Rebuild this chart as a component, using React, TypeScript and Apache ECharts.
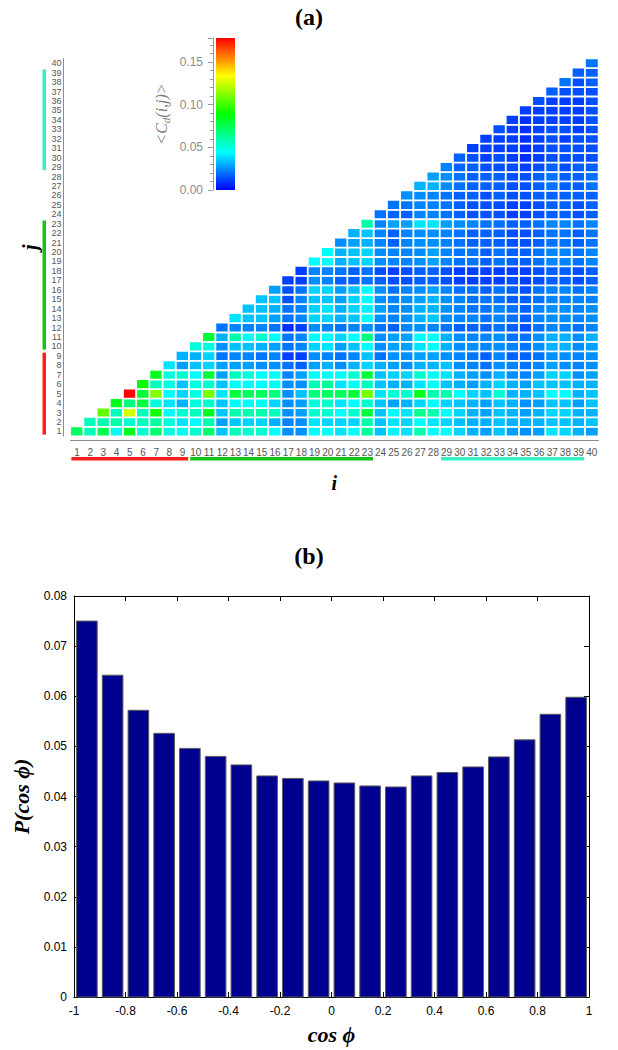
import { useEffect, useRef } from 'react';
import * as echarts from 'echarts';

// ---------- panel (a): <C_d(i,j)> for residue pairs, j <= i (values in units of 0.001) ----------
const ijLabels = ['1','2','3','4','5','6','7','8','9','10','11','12','13','14','15','16','17','18','19','20',
  '21','22','23','24','25','26','27','28','29','30','31','32','33','34','35','36','37','38','39','40'];

// each row j lists i = j .. 40
const cdJ01 = [73,56,76,47,84,53,70,50,47,53, 70,34,56,53,53,45,25,25,45,45, 40,45,62,34,43,40,59,45,45,37, 31,28,34,28,25,28,40,37,31,28];
const cdJ02 = [56,59,59,53,56,62,50,40,45, 59,28,35,37,37,31,23,25,40,37, 37,37,59,34,40,37,45,40,37,34, 31,31,34,31,31,31,34,34,31,34];
const cdJ03 = [106,56,126,56,92,45,53,56, 84,34,59,59,59,56,25,28,53,53, 45,53,79,34,45,40,65,59,45,37, 31,28,34,31,28,31,37,37,31,31];
const cdJ04 = [84,67,79,50,40,31,50, 53,34,45,45,45,37,25,28,50,53, 40,45,53,34,28,31,37,45,37,34, 31,28,34,31,25,28,34,34,28,34];
const cdJ05 = [178,79,112,45,37,50, 109,40,79,73,73,67,25,34,67,73, 73,79,109,40,53,53,84,59,59,45, 37,34,53,31,31,34,45,45,31,34];
const cdJ06 = [89,56,50,34,50, 53,34,45,45,45,45,25,25,56,62, 40,45,56,34,31,31,40,45,34,31, 28,31,37,31,28,34,34,34,31,31];
const cdJ07 = [84,50,53,45, 79,28,56,50,45,45,23,28,45,45, 45,53,79,34,37,37,53,45,40,31, 28,25,31,25,23,28,37,37,25,28];
const cdJ08 = [40,28,34, 37,28,28,28,25,25,20,17,28,31, 25,31,37,31,28,25,31,31,34,25, 23,20,25,23,20,23,28,25,23,25];
const cdJ09 = [31,31, 37,20,23,23,20,23,11,11,25,23, 20,23,34,20,25,25,28,28,25,23, 20,17,23,17,17,20,25,25,23,25];
const cdJ10 = [50, 50,25,34,34,31,28,20,23,37,40, 28,34,45,25,28,28,40,45,31,25, 25,23,25,23,20,25,31,31,25,28];
const cdJ11 = [79,31,59,45,53,45,20,23,45,45, 37,45,67,25,28,28,45,45,31,25, 23,23,25,20,20,25,31,31,25,31];
const cdJ12 = [20,23,23,23,20,8,11,25,23, 20,23,25,20,17,23,25,23,20,17, 17,17,20,17,14,20,23,23,20,23];
const cdJ13 = [40,34,34,28,20,23,37,37, 31,34,45,25,23,25,31,34,25,23, 23,20,23,20,17,23,25,25,23,25];
const cdJ14 = [34,34,31,20,23,37,40, 31,37,42,28,23,25,31,31,25,23, 20,20,23,20,17,23,25,25,23,25];
const cdJ15 = [34,34,14,23,34,34, 28,37,45,25,23,25,28,31,25,23, 20,20,20,17,17,20,23,23,23,23];
const cdJ16 = [28,14,20,37,37, 28,34,45,25,20,23,25,28,23,20, 20,17,20,17,14,20,23,23,20,23];
const cdJ17 = [11,11,25,23, 17,17,20,17,14,14,17,17,14,11, 11,11,11,14,11,14,17,17,14,17];
const cdJ18 = [11,23,23, 20,17,20,14,11,14,17,17,14,11, 11,11,11,11,11,14,17,17,14,17];
const cdJ19 = [45,45, 31,34,37,25,23,23,25,28,23,20, 20,17,20,17,17,20,23,23,20,23];
const cdJ20 = [45, 31,34,37,25,23,23,25,28,23,20, 20,17,20,17,17,20,23,23,20,23];
const cdJ21 = [25,28,31,23,17,23,25,25,23,20, 17,17,17,14,14,17,20,20,17,20];
const cdJ22 = [31,34,23,17,23,25,25,23,20, 17,17,17,14,14,17,20,20,17,20];
const cdJ23 = [59,23,28,28,40,40,28,25, 23,20,20,17,17,20,23,23,20,23];
const cdJ24 = [20,17,17,23,23,20,17, 14,14,14,11,11,14,17,17,14,17];
const cdJ25 = [20,20,23,23,20,17, 14,14,14,11,11,14,17,17,14,17];
const cdJ26 = [25,25,23,20,17, 17,14,17,14,14,17,17,17,17,17];
const cdJ27 = [31,31,25,20,17,17,17,14,14,17,20,17,17,20];
const cdJ28 = [28,25,20,17,17,17,14,14,17,20,17,17,20];
const cdJ29 = [23,17,17,14,14,14,11,14,17,14,17,17];
const cdJ30 = [17,14,11,14,11,8,11,14,14,14,14];
const cdJ31 = [11,11,11,11,8,11,14,14,14,14];
const cdJ32 = [11,11,11,8,11,14,11,14,14];
const cdJ33 = [14,11,8,11,14,14,11,14];
const cdJ34 = [11,8,11,11,11,11,14];
const cdJ35 = [11,11,11,11,11,14];
const cdJ36 = [14,11,11,11,14];
const cdJ37 = [17,14,14,14];
const cdJ38 = [20,14,17];
const cdJ39 = [17,17];
const cdJ40 = [20];

const cdRows = [cdJ01,cdJ02,cdJ03,cdJ04,cdJ05,cdJ06,cdJ07,cdJ08,cdJ09,cdJ10,
  cdJ11,cdJ12,cdJ13,cdJ14,cdJ15,cdJ16,cdJ17,cdJ18,cdJ19,cdJ20,
  cdJ21,cdJ22,cdJ23,cdJ24,cdJ25,cdJ26,cdJ27,cdJ28,cdJ29,cdJ30,
  cdJ31,cdJ32,cdJ33,cdJ34,cdJ35,cdJ36,cdJ37,cdJ38,cdJ39,cdJ40];

const cdMax = 0.178;
const cdColors = ['#0000ff', '#00ffff', '#00ff00', '#ffff00', '#ff0000'];

// residue groups marked along both axes
const groupFrom = [1, 10, 29];
const groupTo = [9, 23, 39];
const groupColors = ['#ff1e1e', '#14c414', '#35efc5'];

// ---------- panel (b): P(cos phi) histogram ----------
const cosPhiBins = [-0.95,-0.85,-0.75,-0.65,-0.55,-0.45,-0.35,-0.25,-0.15,-0.05,
  0.05,0.15,0.25,0.35,0.45,0.55,0.65,0.75,0.85,0.95];
const pCosPhi = [0.0750,0.0642,0.0572,0.0526,0.0496,0.0480,0.0463,0.0441,0.0436,0.0431,
  0.0427,0.0421,0.0419,0.0441,0.0448,0.0459,0.0479,0.0513,0.0564,0.0598];

const serif = 'Liberation Serif';
const sans = 'Liberation Sans';

export default function App() {
  const ref = useRef<HTMLDivElement>(null);

  useEffect(() => {
    const chart = echarts.init(ref.current as HTMLDivElement, null, { renderer: 'svg' });

    const heatData: number[][] = [];
    cdRows.forEach((row, jIdx) => {
      row.forEach((v, k) => {
        heatData.push([jIdx + k, jIdx, v / 1000]);
      });
    });

    const axisNameStyle = {
      fontFamily: serif, fontWeight: 'bold', fontStyle: 'italic', fontSize: 20, color: '#000',
    };
    const heatAxisGray = '#8c8c8c';
    const barHalf = 0.04;
    const blackLine = { show: true, onZero: false, lineStyle: { color: '#000' } };
    const blackTick = { show: true, inside: true, length: 5, lineStyle: { color: '#000' } };

    const option: any = {
      animation: false,
      backgroundColor: '#fff',
      title: [
        { text: '(a)', left: 'center', top: 5, padding: 0,
          textStyle: { fontFamily: serif, fontWeight: 'bold', fontSize: 24, color: '#000' } },
        { text: '(b)', left: 'center', top: 544, padding: 0,
          textStyle: { fontFamily: serif, fontWeight: 'bold', fontSize: 24, color: '#000' } },
      ],
      grid: [
        { left: 70.4, top: 58.5, width: 528, height: 377.6 },
        { left: 216, top: 38, width: 19, height: 152 },
        { left: 74, top: 596, width: 515, height: 401 },
      ],
      visualMap: {
        type: 'continuous', show: false, seriesIndex: 0, dimension: 2,
        min: 0, max: cdMax, inRange: { color: cdColors },
      },
      xAxis: [
        {
          gridIndex: 0, type: 'category', data: ijLabels, offset: 4,
          axisLine: { onZero: false, lineStyle: { color: heatAxisGray } },
          axisTick: { inside: true, length: 5, alignWithLabel: true, interval: 0, lineStyle: { color: heatAxisGray } },
          axisLabel: { interval: 0, fontSize: 10, color: '#555', margin: 7, fontFamily: sans },
          splitLine: { show: false },
          name: 'i', nameLocation: 'middle', nameGap: 33, nameTextStyle: axisNameStyle,
        },
        { gridIndex: 1, type: 'category', data: ['cb'], show: false },
        {
          gridIndex: 2, type: 'value', min: -1, max: 1, interval: 0.2, position: 'bottom',
          axisLine: blackLine, axisTick: blackTick,
          axisLabel: {
            fontSize: 12, color: '#000', margin: 8, fontFamily: sans,
            formatter: (v: number) => { const r = Math.round(v * 10) / 10; return r === 0 ? '0' : String(r); },
          },
          splitLine: { show: false },
          name: 'cos ϕ', nameLocation: 'middle', nameGap: 26,
          nameTextStyle: { ...axisNameStyle, fontSize: 22 },
        },
        {
          gridIndex: 2, type: 'value', min: -1, max: 1, interval: 0.2, position: 'top',
          axisLine: blackLine, axisTick: blackTick,
          axisLabel: { show: false }, splitLine: { show: false },
        },
      ],
      yAxis: [
        {
          gridIndex: 0, type: 'category', data: ijLabels, offset: 7,
          axisLine: { onZero: false, lineStyle: { color: heatAxisGray } },
          axisTick: { inside: true, length: 9, alignWithLabel: true, interval: 0, lineStyle: { color: heatAxisGray } },
          axisLabel: { interval: 0, fontSize: 9, color: '#555', margin: 2, fontFamily: sans },
          splitLine: { show: false },
          name: 'j', nameLocation: 'middle', nameGap: 19, nameRotate: 90, nameTextStyle: axisNameStyle,
        },
        {
          gridIndex: 1, type: 'value', min: 0, max: cdMax, interval: 0.05, offset: 3, position: 'left',
          axisLine: { show: true, onZero: false, lineStyle: { color: '#9a9a9a' } },
          axisTick: { show: true, length: 5, lineStyle: { color: '#9a9a9a' } },
          minorTick: { show: true, splitNumber: 5, length: 3, lineStyle: { color: '#9a9a9a' } },
          axisLabel: {
            fontSize: 12, color: '#8a8a8a', margin: 10, fontFamily: sans,
            formatter: (v: number) => (Math.abs(v / 0.05 - Math.round(v / 0.05)) < 1e-6 ? v.toFixed(2) : ''),
          },
          splitLine: { show: false },
          name: '{n|<C}{s|d}{n|(i,j)>}', nameLocation: 'middle', nameGap: 42, nameRotate: 90,
          nameTextStyle: {
            rich: {
              n: { fontSize: 16, color: '#7a7a7a', fontStyle: 'italic', fontFamily: serif },
              s: { fontSize: 11, color: '#7a7a7a', fontStyle: 'italic', fontFamily: serif, padding: [8, 0, 0, 0] },
            },
          },
        },
        {
          gridIndex: 2, type: 'value', min: 0, max: 0.08, interval: 0.01, position: 'left',
          axisLine: blackLine, axisTick: blackTick,
          axisLabel: {
            fontSize: 12, color: '#000', margin: 7, fontFamily: sans,
            formatter: (v: number) => (v === 0 ? '0' : v.toFixed(2)),
          },
          splitLine: { show: false },
          name: 'P(cos ϕ)', nameLocation: 'middle', nameGap: 42, nameRotate: 90,
          nameTextStyle: { ...axisNameStyle, fontSize: 22 },
        },
        {
          gridIndex: 2, type: 'value', min: 0, max: 0.08, interval: 0.01, position: 'right',
          axisLine: blackLine, axisTick: blackTick,
          axisLabel: { show: false }, splitLine: { show: false },
        },
      ],
      series: [
        {
          type: 'heatmap', xAxisIndex: 0, yAxisIndex: 0, data: heatData,
          progressive: 0,
          itemStyle: { borderColor: '#ffffff', borderWidth: 1.8 },
          emphasis: { disabled: true },
        },
        {
          type: 'custom', xAxisIndex: 0, yAxisIndex: 0, silent: true, clip: false,
          data: groupFrom.map((f) => [f - 1, 0]),
          renderItem: (params: any, api: any) => {
            const k = params.dataIndex;
            const f = groupFrom[k] - 1;
            const t = groupTo[k] - 1;
            const size = api.size([1, 1]);
            const cw = size[0];
            const ch = size[1];
            const a = api.coord([f, 0]);
            const b = api.coord([t, 0]);
            const c = api.coord([0, f]);
            const d = api.coord([0, t]);
            return {
              type: 'group',
              children: [
                { type: 'rect', shape: { x: a[0] - cw / 2 + 1, y: a[1] + 25.5, width: b[0] - a[0] + cw - 2, height: 3.5 },
                  style: { fill: groupColors[k] } },
                { type: 'rect', shape: { x: c[0] - 34.5, y: d[1] - ch / 2 + 1.5, width: 3.5, height: c[1] - d[1] + ch - 3 },
                  style: { fill: groupColors[k] } },
              ],
            };
          },
        },
        {
          type: 'bar', xAxisIndex: 1, yAxisIndex: 1, data: [cdMax], barWidth: '100%', silent: true,
          itemStyle: {
            color: new echarts.graphic.LinearGradient(0, 1, 0, 0,
              cdColors.map((col, k) => ({ offset: k / (cdColors.length - 1), color: col }))),
          },
        },
        {
          type: 'custom', xAxisIndex: 2, yAxisIndex: 2, silent: true,
          data: cosPhiBins.map((x, k) => [x, pCosPhi[k]]),
          renderItem: (params: any, api: any) => {
            const x = api.value(0);
            const y = api.value(1);
            const p0 = api.coord([x - barHalf, y]);
            const p1 = api.coord([x + barHalf, 0]);
            return {
              type: 'rect',
              shape: { x: p0[0], y: p0[1], width: p1[0] - p0[0], height: p1[1] - p0[1] },
              style: { fill: '#00008f', stroke: '#5a5a5a', lineWidth: 1 },
            };
          },
        },
      ],
    };

    chart.setOption(option);
    return () => chart.dispose();
  }, []);

  return <div ref={ref} style={{ position: 'absolute', left: 0, top: 0, width: 618, height: 1050 }} />;
}
